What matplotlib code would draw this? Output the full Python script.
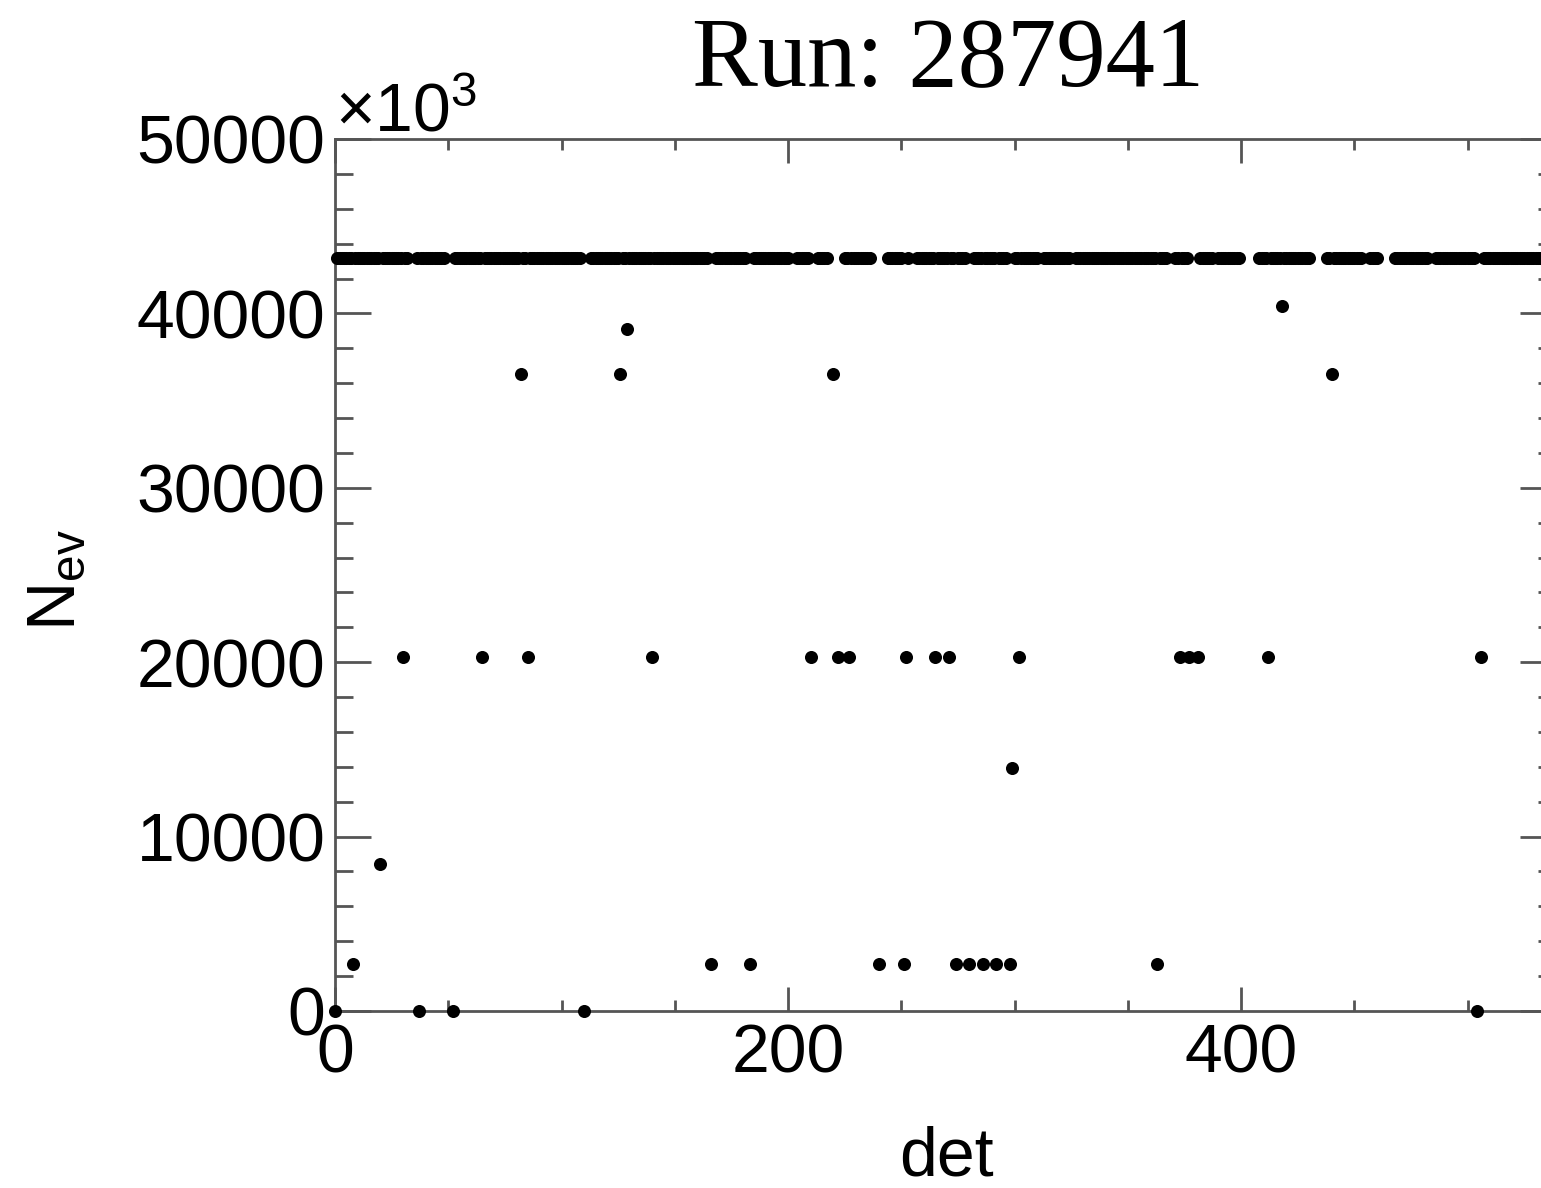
import matplotlib
matplotlib.use("Agg")
import matplotlib.pyplot as plt
from matplotlib.ticker import MultipleLocator
import numpy as np

# ── data (units of 10^3 events) ──────────────────────────────────────────────

n_det = 540
base_val = 43150          # most detectors sit on this line

# det ranges missing from the base line (inclusive)
gap_lo = [33, 49, 109, 165, 182, 201, 210, 218, 237, 254, 279, 297, 311, 325,
          368, 378, 388, 400, 431, 454, 461, 483, 504]
gap_hi = [35, 51, 112, 167, 184, 203, 212, 224, 243, 256, 281, 299, 312, 326,
          370, 380, 389, 407, 437, 456, 467, 485, 506]

# detectors off the base line
out_det = [0, 37, 52, 110, 504,
           8, 166, 183, 240, 251, 274, 280, 286, 292, 298, 363,
           30, 65, 85, 140, 210, 222, 227, 252, 265, 271, 302, 373, 377, 381, 412, 506,
           82, 126, 220, 440,
           129, 418, 299, 20]
out_val = [0, 0, 0, 0, 0,
           2700, 2700, 2700, 2700, 2700, 2700, 2700, 2700, 2700, 2700, 2700,
           20300, 20300, 20300, 20300, 20300, 20300, 20300, 20300, 20300, 20300,
           20300, 20300, 20300, 20300, 20300, 20300,
           36500, 36500, 36500, 36500,
           39100, 40450, 13950, 8450]

# ── base line dets ───────────────────────────────────────────────────────────

dets = np.arange(n_det)
keep = np.ones(n_det, dtype=bool)
for lo, hi in zip(gap_lo, gap_hi):
    keep[lo:hi + 1] = False
keep[out_det] = False
base_det = dets[keep]

# ── figure ───────────────────────────────────────────────────────────────────

W, H = 1541, 1188
fig = plt.figure(figsize=(W / 100, H / 100), dpi=100)
fig.patch.set_facecolor("white")

x0, x1 = 335, 1556
y0, y1 = 1011, 139
ax = fig.add_axes([x0 / W, 1 - y0 / H, (x1 - x0) / W, (y0 - y1) / H])

sans = "Liberation Sans"
plt.rcParams["mathtext.fontset"] = "custom"
plt.rcParams["mathtext.rm"] = sans
plt.rcParams["mathtext.it"] = sans + ":italic"

ms = 9.4
ax.plot(base_det, np.full(len(base_det), base_val), "o", color="black",
        ms=ms, mew=0, clip_on=False, zorder=3)
ax.plot(out_det, out_val, "o", color="black", ms=ms, mew=0,
        clip_on=False, zorder=3)

ax.set_xlim(0, 539)
ax.set_ylim(0, 50000)

ax.xaxis.set_major_locator(MultipleLocator(200))
ax.xaxis.set_minor_locator(MultipleLocator(50))
ax.yaxis.set_major_locator(MultipleLocator(10000))
ax.yaxis.set_minor_locator(MultipleLocator(2000))

for sp in ax.spines.values():
    sp.set_linewidth(2.0)
    sp.set_color("#555555")

ax.tick_params(which="both", direction="in", top=True, right=True,
               color="#555555", width=2.0)
ax.tick_params(axis="x", which="major", length=17, pad=8, labelsize=49)
ax.tick_params(axis="x", which="minor", length=8)
ax.tick_params(axis="y", which="major", length=26, pad=7, labelsize=49)
ax.tick_params(axis="y", which="minor", length=13)

for lab in ax.get_xticklabels() + ax.get_yticklabels():
    lab.set_fontfamily(sans)

# ── texts ────────────────────────────────────────────────────────────────────

fig.text(948 / W, 1 - 85 / H, "Run: 287941", ha="center", va="baseline",
         fontsize=71, family="Liberation Serif")
fig.text(335 / W, 1 - 131 / H, "×10$^{3}$", ha="left", va="baseline",
         fontsize=49, family=sans)
fig.text(57 / W, 1 - 580 / H, r"N$_{\mathrm{ev}}$", ha="center", va="center",
         rotation=90, fontsize=49, family=sans)
fig.text(946 / W, 1 - 1176 / H, "det", ha="center", va="baseline",
         fontsize=49, family=sans)

fig.savefig("out.png", dpi=100, facecolor=fig.get_facecolor())
